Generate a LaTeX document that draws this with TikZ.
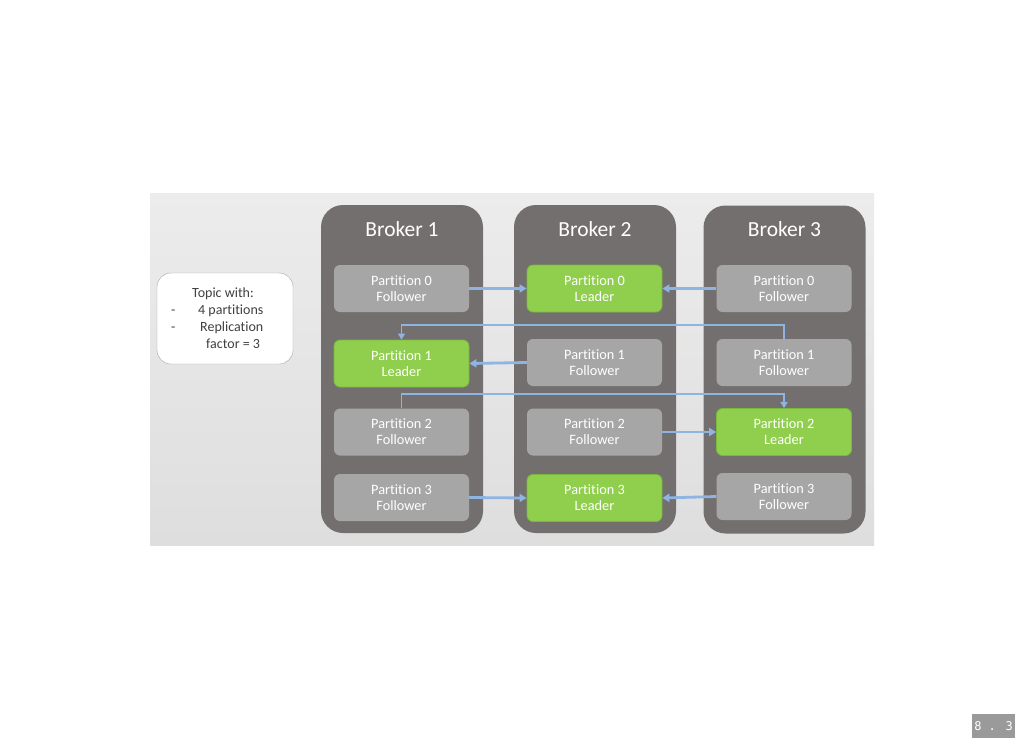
\documentclass[tikz,border=0pt]{standalone}
\usepackage{fontspec}
\setmainfont{Carlito}[Ligatures=NoCommon]
\newfontfamily\numfont{DejaVu Sans Mono}
\usetikzlibrary{arrows.meta}
\definecolor{brokerc}{HTML}{736F6E}
\definecolor{partg}{HTML}{A6A6A6}
\definecolor{partgreen}{HTML}{8FCF4D}
\definecolor{greenborder}{HTML}{7AB83C}
\definecolor{arrowblue}{HTML}{8EB4E3}
\definecolor{bgtop}{HTML}{ECECEC}
\definecolor{bgbot}{HTML}{DEDEDE}
\definecolor{topictext}{HTML}{404040}
\definecolor{numbg}{HTML}{9A9A9A}
\tikzset{
  broker/.style={fill=brokerc, rounded corners=22pt, minimum width=162pt, minimum height=328pt, inner sep=0pt},
  brokertitle/.style={text=white, font=\fontsize{21.5}{24}\selectfont, inner sep=0pt},
  follower/.style={fill=partg, rounded corners=6pt, minimum width=135pt, minimum height=47pt, inner sep=0pt,
     text=white, align=center, font=\fontsize{14.3}{16}\selectfont},
  leader/.style={follower, fill=partgreen, draw=greenborder, line width=0.8pt},
  repl/.style={draw=arrowblue, line width=2.8pt, -{Triangle[length=7pt,width=8pt]}},
  replthin/.style={draw=arrowblue, line width=1.8pt, -{Triangle[length=6pt,width=7pt]}},
}
\begin{document}
\begin{tikzpicture}[x=1pt,y=-1pt]
\useasboundingbox (0,0) rectangle (1024,747);
\fill[white] (0,0) rectangle (1024,747);
\shade[top color=bgtop, bottom color=bgbot] (150,193) rectangle (874,545);

% topic box
\node[draw=gray!70, fill=white, rounded corners=14pt, minimum width=136pt, minimum height=91pt, inner sep=0pt] (topic) at (225,318.5) {};
\node[anchor=west, inner sep=0pt, align=left, text=topictext, font=\fontsize{14}{16.8}\selectfont] (topictxt) at (171,318)
 {\hspace*{21pt}Topic with:\\ \makebox[27pt][l]{-}4 partitions\\ \makebox[29pt][l]{-}Replication\\ \hspace*{35pt}factor = 3};

% brokers
\node[broker] (b1) at (402,369) {};
\node[broker] (b2) at (595,369) {};
\node[broker] (b3) at (784.5,369.5) {};
\node[brokertitle] (t1) at (402,229) {Broker 1};
\node[brokertitle] (t2) at (595,229) {Broker 2};
\node[brokertitle] (t3) at (784.5,229) {Broker 3};

% broker 1
\node[follower] (p10) at (401.5,288.5) {Partition 0\\Follower};
\node[leader]   (p11) at (401.5,363.5) {Partition 1\\Leader};
\node[follower] (p12) at (401.5,432) {Partition 2\\Follower};
\node[follower] (p13) at (401.5,497.5) {Partition 3\\Follower};
% broker 2
\node[leader]   (p20) at (594.5,288.5) {Partition 0\\Leader};
\node[follower] (p21) at (594.5,362.5) {Partition 1\\Follower};
\node[follower] (p22) at (594.5,432) {Partition 2\\Follower};
\node[leader]   (p23) at (594.5,498) {Partition 3\\Leader};
% broker 3
\node[follower] (p30) at (784,288.5) {Partition 0\\Follower};
\node[follower] (p31) at (784,362.5) {Partition 1\\Follower};
\node[leader]   (p32) at (784,432) {Partition 2\\Leader};
\node[follower] (p33) at (784,496.5) {Partition 3\\Follower};

% replication arrows
\draw[repl] (p10.east) -- (p20.west);
\draw[repl] (p30.west) -- (p20.east);
\draw[repl] (p21.west) -- (p11.east);
\draw[replthin] (p31.north) -- ++(0,-14) -| (p11.north);
\draw[replthin] (p12.north) -- ++(0,-14) -| (p32.north);
\draw[repl] (p22.east) -- (p32.west);
\draw[repl] (p13.east) -- (p23.west);
\draw[repl] (p33.west) -- (p23.east);

% slide number
\node[fill=numbg, text=white, minimum width=43pt, minimum height=24pt, inner sep=0pt, font=\numfont\fontsize{12}{14}\selectfont] (num) at (993.5,726) {8 . 3};
\end{tikzpicture}
\end{document}
